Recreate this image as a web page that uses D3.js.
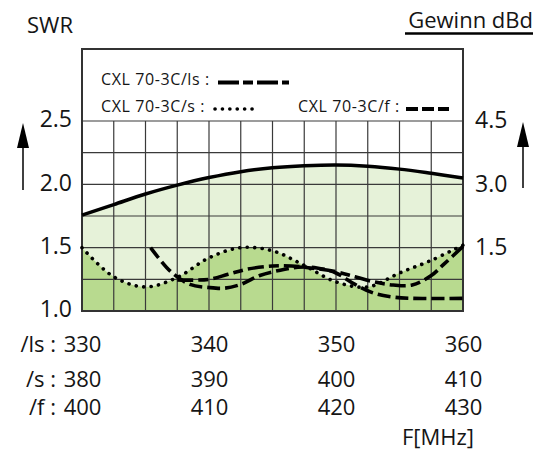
<!DOCTYPE html>
<html>
<head>
<meta charset="utf-8">
<script src="https://cdn.jsdelivr.net/npm/d3@7"></script>
<style>
  body { margin: 0; background: #fff; }
  text { font-family: "Open Sans", sans-serif; fill: #151515; }
</style>
</head>
<body>
<svg width="550" height="455"></svg>
<script>
// frequency tick labels, one row per antenna variant
const lsTicks = [330, 340, 350, 360];
const sTicks = [380, 390, 400, 410];
const fTicks = [400, 410, 420, 430];
const swrTicks = [1.0, 1.5, 2.0, 2.5];
const gainTicks = [1.5, 3.0, 4.5];

// gain (dBd), read against the /ls frequency row
const gainFreq = [330, 332.5, 335, 337.5, 340, 342.5, 345, 347.5, 350, 352.5, 355, 357.5, 360];
const gainDbd = [2.27, 2.52, 2.77, 2.98, 3.16, 3.30, 3.39, 3.44, 3.46, 3.43, 3.36, 3.26, 3.15];

// SWR of CXL 70-3C/s (dotted)
const sFreq = [380, 382.5, 385, 387.5, 390, 392.5, 395, 397.5, 400, 402.5, 405, 407.5, 410];
const sSwr = [1.50, 1.27, 1.19, 1.265, 1.42, 1.50, 1.475, 1.36, 1.23, 1.19, 1.30, 1.40, 1.52];

// SWR of CXL 70-3C/ls (long-short dash)
const lsFreq = [337.5, 340, 341.5, 343, 345, 346.5, 348, 350, 351.5, 353, 354.5, 356, 357.5, 358.5, 360];
const lsSwr = [1.245, 1.25, 1.29, 1.33, 1.355, 1.355, 1.34, 1.31, 1.27, 1.23, 1.205, 1.205, 1.28, 1.37, 1.51];

// SWR of CXL 70-3C/f (dash)
const fFreq = [405.4, 407, 408.5, 410, 411.2, 412.5, 414, 415.5, 417, 418.5, 420, 421.5, 423, 424.5, 426, 430];
const fSwr = [1.50, 1.31, 1.21, 1.185, 1.18, 1.21, 1.28, 1.32, 1.345, 1.34, 1.30, 1.21, 1.14, 1.11, 1.10, 1.10];

const svg = d3.select('svg');

const plotLeft = 82, plotRight = 463, plotTop = 121, plotBottom = 311, boxTop = 49;

const xLs = d3.scaleLinear().domain([330, 360]).range([plotLeft, plotRight]);
const xS = d3.scaleLinear().domain([380, 410]).range([plotLeft, plotRight]);
const xF = d3.scaleLinear().domain([400, 430]).range([plotLeft, plotRight]);
const y = d3.scaleLinear().domain([1.0, 2.5]).range([plotBottom, plotTop]);
const yGain = d3.scaleLinear().domain([0, 4.5]).range([plotBottom, plotTop]);

const curve = d3.curveCatmullRom.alpha(0.5);

// light fill under the gain line
svg.append('path')
  .datum(d3.zip(gainFreq, gainDbd))
  .attr('fill', '#e6f2d9')
  .attr('d', d3.area().curve(curve)
    .x(d => xLs(d[0])).y0(plotBottom).y1(d => yGain(d[1])));

// darker fill under the /s curve
svg.append('path')
  .datum(d3.zip(sFreq, sSwr))
  .attr('fill', '#b8da8f')
  .attr('d', d3.area().curve(curve)
    .x(d => xS(d[0])).y0(plotBottom).y1(d => y(d[1])));

// grid
const grid = svg.append('g').attr('stroke', '#3a3a3a').attr('stroke-width', 1.2);
grid.selectAll('.v')
  .data(d3.range(330, 360.1, 2.5))
  .enter().append('line')
  .attr('x1', d => xLs(d)).attr('x2', d => xLs(d))
  .attr('y1', plotTop).attr('y2', plotBottom);
grid.selectAll('.h')
  .data(d3.range(1.0, 2.51, 0.25))
  .enter().append('line')
  .attr('x1', plotLeft).attr('x2', plotRight)
  .attr('y1', d => y(d)).attr('y2', d => y(d));

// frame
svg.append('rect')
  .attr('x', plotLeft).attr('y', boxTop)
  .attr('width', plotRight - plotLeft).attr('height', plotBottom - boxTop)
  .attr('fill', 'none').attr('stroke', '#333').attr('stroke-width', 2);

// curves
svg.append('path')
  .datum(d3.zip(gainFreq, gainDbd))
  .attr('fill', 'none').attr('stroke', '#000').attr('stroke-width', 3.5)
  .attr('d', d3.line().curve(curve).x(d => xLs(d[0])).y(d => yGain(d[1])));

svg.append('path')
  .datum(d3.zip(sFreq, sSwr))
  .attr('fill', 'none').attr('stroke', '#000').attr('stroke-width', 3.6)
  .attr('stroke-linecap', 'round').attr('stroke-dasharray', '0.1 7.4')
  .attr('d', d3.line().curve(curve).x(d => xS(d[0])).y(d => y(d[1])));

svg.append('path')
  .datum(d3.zip(lsFreq, lsSwr))
  .attr('fill', 'none').attr('stroke', '#000').attr('stroke-width', 3.6)
  .attr('stroke-dasharray', '16 5 10 5')
  .attr('d', d3.line().curve(curve).x(d => xLs(d[0])).y(d => y(d[1])));

svg.append('path')
  .datum(d3.zip(fFreq, fSwr))
  .attr('fill', 'none').attr('stroke', '#000').attr('stroke-width', 3.6)
  .attr('stroke-dasharray', '13 5')
  .attr('d', d3.line().curve(curve).x(d => xF(d[0])).y(d => y(d[1])));

// legend inside the frame
const legend = svg.append('g').style('font-size', '16px').style('letter-spacing', '0.6px');
legend.append('text').attr('x', 101).attr('y', 85).text('CXL 70-3C/ls :');
legend.append('text').attr('x', 101).attr('y', 112).text('CXL 70-3C/s :');
legend.append('text').attr('x', 298).attr('y', 112).text('CXL 70-3C/f :');
legend.append('line').attr('x1', 218).attr('x2', 289).attr('y1', 82.5).attr('y2', 82.5)
  .attr('stroke', '#000').attr('stroke-width', 4).attr('stroke-dasharray', '21 4 10 4');
legend.append('line').attr('x1', 215).attr('x2', 256).attr('y1', 109).attr('y2', 109)
  .attr('stroke', '#000').attr('stroke-width', 3.6).attr('stroke-linecap', 'round')
  .attr('stroke-dasharray', '0.1 7.3');
legend.append('line').attr('x1', 406).attr('x2', 449).attr('y1', 109).attr('y2', 109)
  .attr('stroke', '#000').attr('stroke-width', 4).attr('stroke-dasharray', '12 4');

// left SWR axis
const yAxis = svg.append('g')
  .attr('transform', `translate(${plotLeft},0)`)
  .call(d3.axisLeft(y).tickValues(swrTicks).tickFormat(d3.format('.1f')).tickSize(0).tickPadding(10));
yAxis.select('.domain').remove();
yAxis.selectAll('text').style('font-size', '23px').style('font-family', '"Open Sans", sans-serif')
  .attr('fill', '#151515').attr('dy', '0.25em');

// right gain axis
const gAxis = svg.append('g')
  .attr('transform', `translate(${plotRight},0)`)
  .call(d3.axisRight(yGain).tickValues(gainTicks).tickFormat(d3.format('.1f')).tickSize(0).tickPadding(12));
gAxis.select('.domain').remove();
gAxis.selectAll('text').style('font-size', '23px').style('font-family', '"Open Sans", sans-serif')
  .attr('fill', '#151515').attr('dy', '0.3em');

// three frequency rows
const rows = [
  { scale: xLs, ticks: lsTicks, label: '/ls :', base: 352 },
  { scale: xS, ticks: sTicks, label: '/s :', base: 387 },
  { scale: xF, ticks: fTicks, label: '/f :', base: 415 }
];
rows.forEach(r => {
  const g = svg.append('g')
    .attr('transform', `translate(0,${r.base})`)
    .call(d3.axisBottom(r.scale).tickValues(r.ticks).tickSize(0));
  g.select('.domain').remove();
  g.selectAll('text').attr('y', 0).attr('dy', 0)
    .style('font-size', '22px').style('font-family', '"Open Sans", sans-serif').attr('fill', '#151515');
  svg.append('text').attr('x', 56).attr('y', r.base)
    .attr('text-anchor', 'end').style('font-size', '22px').text(r.label);
});

svg.append('text').attr('x', 402).attr('y', 445).style('font-size', '22px').text('F[MHz]');

// titles
svg.append('text').attr('x', 27).attr('y', 33).style('font-size', '22px').text('SWR');
svg.append('text').attr('x', 533).attr('y', 28).attr('text-anchor', 'end')
  .style('font-size', '22px').text('Gewinn dBd');
svg.append('line').attr('x1', 405).attr('x2', 533).attr('y1', 33.5).attr('y2', 33.5)
  .attr('stroke', '#000').attr('stroke-width', 2.5);

// up arrows beside the axes
[[23, 123, 190], [523, 122, 188]].forEach(([ax, tip, end]) => {
  svg.append('line').attr('x1', ax).attr('x2', ax).attr('y1', tip + 20).attr('y2', end)
    .attr('stroke', '#000').attr('stroke-width', 1.5);
  svg.append('path')
    .attr('d', `M${ax},${tip} L${ax - 6},${tip + 25} L${ax + 6},${tip + 25} Z`)
    .attr('fill', '#000');
});
</script>
</body>
</html>
